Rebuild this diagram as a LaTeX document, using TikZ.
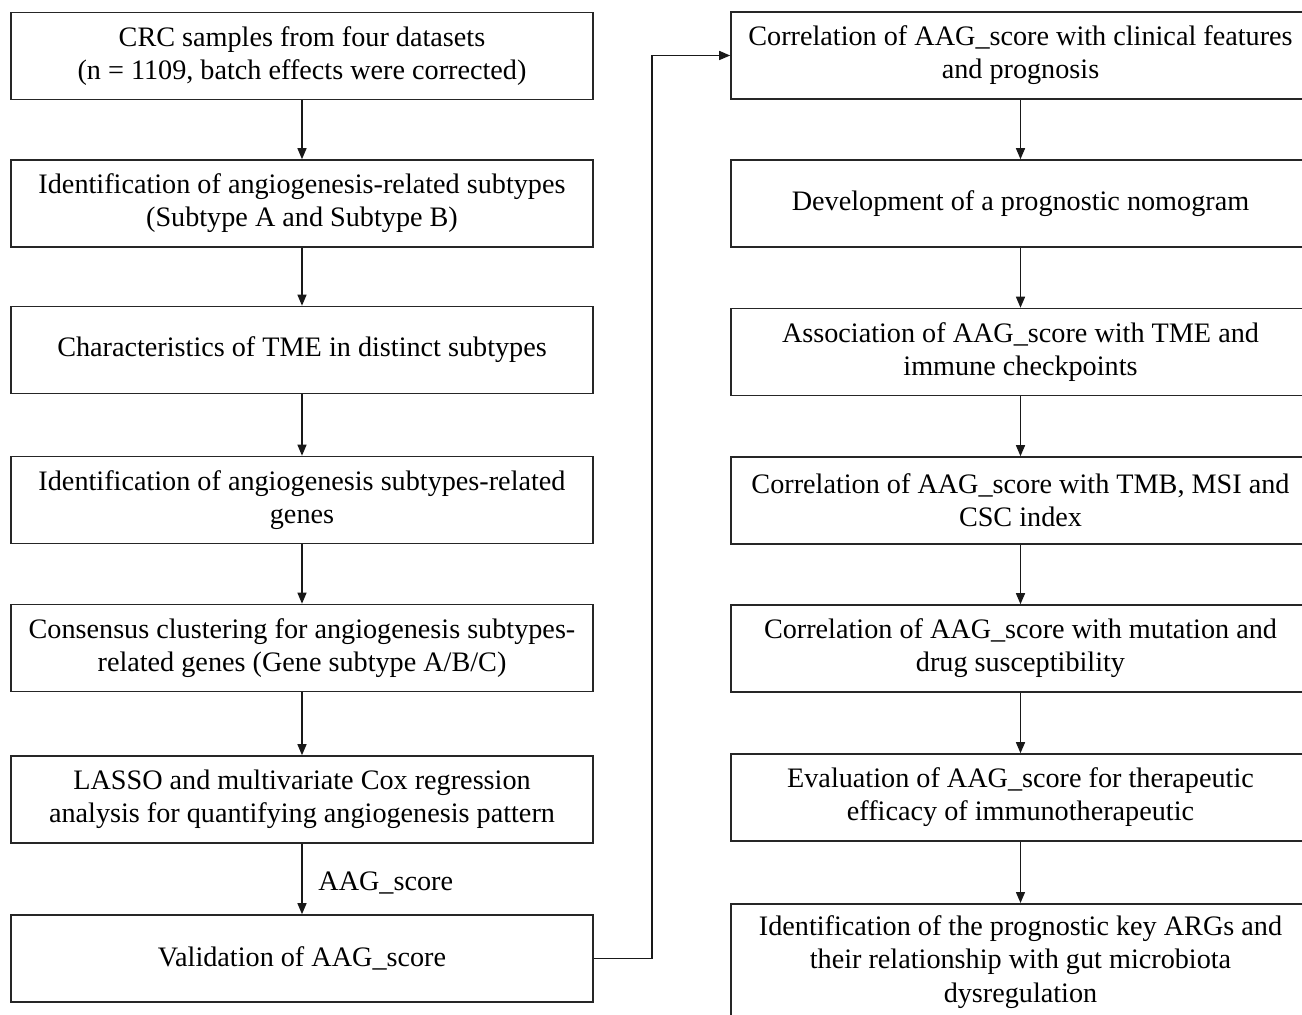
\documentclass[tikz,border=0pt]{standalone}
\usepackage{fontspec}
\setmainfont{Liberation Serif}
\usetikzlibrary{arrows.meta}
\begin{document}
\begin{tikzpicture}[x=0.5pt,y=-0.5pt,
  box/.style={draw=black!85,line width=0.8pt,align=center,inner sep=0pt,
    minimum width=291pt,minimum height=43.5pt,
    font=\fontsize{14.1}{16.6}\selectfont},
  rbox/.style={box,minimum width=289.5pt},
  arr/.style={draw=black!90,line width=0.7pt,-{Triangle[length=5.5pt,width=4.5pt]}},
  lbl/.style={font=\fontsize{14.1}{16.6}\selectfont,inner sep=0pt}]
\clip (0,0) rectangle (1302,1015);
\fill[white] (0,0) rectangle (1302,1015);
% left column
\node[box] (l1) at (302,56) {CRC samples from four datasets\\(n = 1109, batch effects were corrected)};
\node[box] (l2) at (302,203.5) {Identification of angiogenesis-related subtypes\\(Subtype A and Subtype B)};
\node[box] (l3) at (302,350) {Characteristics of TME in distinct subtypes};
\node[box] (l4) at (302,500) {Identification of angiogenesis subtypes-related\\genes};
\node[box] (l5) at (302,648) {Consensus clustering for angiogenesis subtypes-\\related genes (Gene subtype A/B/C)};
\node[box] (l6) at (302,799.5) {LASSO and multivariate Cox regression\\analysis for quantifying angiogenesis pattern};
\node[box] (l7) at (302,958.5) {Validation of AAG\_score};
% right column
\node[rbox] (r1) at (1020.5,55.5) {Correlation of AAG\_score with clinical features\\and prognosis};
\node[rbox] (r2) at (1020.5,203.5) {Development of a prognostic nomogram};
\node[rbox] (r3) at (1020.5,352) {Association of AAG\_score with TME and\\immune checkpoints};
\node[rbox] (r4) at (1020.5,500.5) {Correlation of AAG\_score with TMB, MSI and\\CSC index};
\node[rbox] (r5) at (1020.5,648.5) {Correlation of AAG\_score with mutation and\\drug susceptibility};
\node[rbox] (r6) at (1020.5,797.5) {Evaluation of AAG\_score for therapeutic\\efficacy of immunotherapeutic};
\node[rbox,minimum height=65pt,anchor=north] (r7) at (1020.5,903) {};
\node[lbl,align=center] (r7t) at (1020.5,962) {Identification of the prognostic key ARGs and\\their relationship with gut microbiota\\dysregulation};
% arrows
\draw[arr] (l1) -- (l2);
\draw[arr] (l2) -- (l3);
\draw[arr] (l3) -- (l4);
\draw[arr] (l4) -- (l5);
\draw[arr] (l5) -- (l6);
\draw[arr] (l6) -- (l7);
\node[lbl,anchor=west] (al) at (318,883) {AAG\_score};
\draw[arr] (r1) -- (r2);
\draw[arr] (r2) -- (r3);
\draw[arr] (r3) -- (r4);
\draw[arr] (r4) -- (r5);
\draw[arr] (r5) -- (r6);
\draw[arr] (r6) -- (r7);
\draw[arr] (l7.east) -- ++(58,0) |- (r1.west);
\end{tikzpicture}
\end{document}
